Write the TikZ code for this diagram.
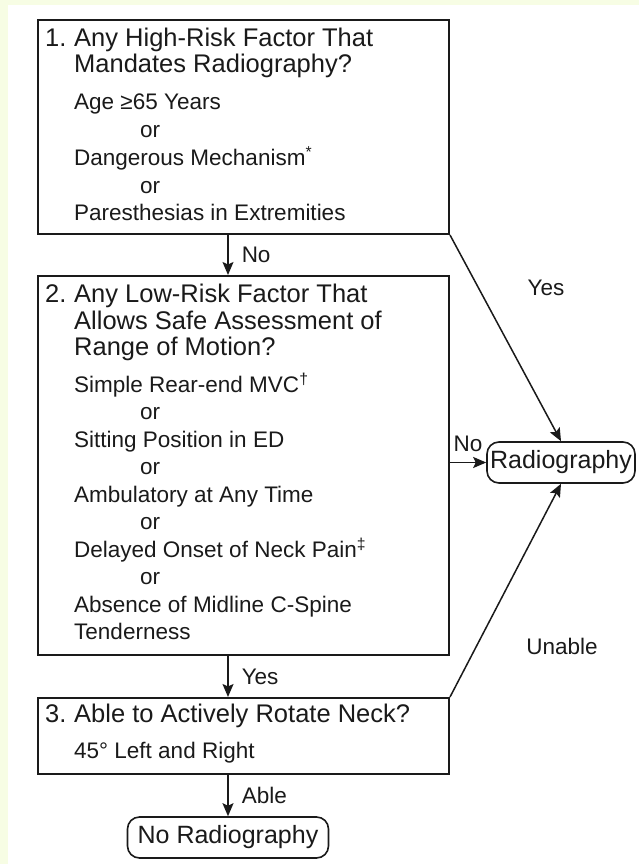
\documentclass[tikz,border=0pt]{standalone}
\usepackage{fontspec}
\setmainfont{Liberation Sans}
\usetikzlibrary{arrows.meta}
\definecolor{bandcol}{HTML}{F7FDE4}
\definecolor{inkcol}{HTML}{1A1A1A}
\tikzset{
  qbox/.style={draw=inkcol, line width=2pt, inner sep=0pt, anchor=north west, minimum width=411pt},
  endbox/.style={draw=inkcol, line width=1.6pt, rounded corners=12pt, inner sep=0pt, minimum height=41pt, font=\fontsize{25}{30}\selectfont},
  ttl/.style={anchor=base west, inner sep=0pt, font=\fontsize{25.5}{30}\selectfont},
  itm/.style={anchor=base west, inner sep=0pt, font=\fontsize{22.5}{27}\selectfont},
  lbl/.style={inner sep=0pt, font=\fontsize{22.5}{27}\selectfont},
  arr/.style={draw=inkcol, line width=1.5pt, -{Stealth[length=13pt,width=11pt,inset=2.5pt]}},
}

\begin{document}
\begin{tikzpicture}[x=1pt, y=-1pt, text=inkcol]
    \fill[bandcol] (0,0) rectangle (639,864);
    \fill[white] (8,5) rectangle (639,864);
    \useasboundingbox (0,0) rectangle (639,864);

    % boxes
    \node[qbox, minimum height=214pt] (q1) at (37,19) {};
    \node[qbox, minimum height=379pt] (q2) at (37,275) {};
    \node[qbox, minimum height=76pt] (q3) at (37,697) {};
    \node[endbox, minimum width=148pt] (rad) at (561,462.5) {Radiography};
    \node[endbox, minimum width=201pt] (norad) at (228,837.5) {No Radiography};

    % box 1
    \node[ttl] (n1) at (45,47) {1.}; \node[ttl] (t1a) at (74,47) {Any High-Risk Factor That}; \node[ttl] (t1b) at (74,73) {Mandates Radiography?};
    \node[itm] (a1) at (74,110) {Age ≥65 Years}; \node[itm] (o1a) at (140,138) {or};
    \node[itm] (a2) at (74,165) {Dangerous Mechanism\textsuperscript{*}}; \node[itm] (o1b) at (140,193) {or};
    \node[itm] (a3) at (74,220) {Paresthesias in Extremities};

    % box 2
    \node[ttl] (n2) at (45,302) {2.}; \node[ttl] (t2a) at (74,302) {Any Low-Risk Factor That};
    \node[ttl] (t2b) at (74,329) {Allows Safe Assessment of}; \node[ttl] (t2c) at (74,355) {Range of Motion?};
    \node[itm] (b1) at (74,392) {Simple Rear-end MVC\textsuperscript{†}}; \node[itm] (o2a) at (140,419.5) {or};
    \node[itm] (b2) at (74,447) {Sitting Position in ED}; \node[itm] (o2b) at (140,474.5) {or};
    \node[itm] (b3) at (74,502) {Ambulatory at Any Time}; \node[itm] (o2c) at (140,529.5) {or};
    \node[itm] (b4) at (74,557) {Delayed Onset of Neck Pain\textsuperscript{‡}}; \node[itm] (o2d) at (140,584.5) {or};
    \node[itm] (b5) at (74,612) {Absence of Midline C-Spine}; \node[itm] (b6) at (74,639) {Tenderness};

    % box 3
    \node[ttl] (n3) at (45,722) {3.}; \node[ttl] (t3a) at (74,722) {Able to Actively Rotate Neck?};
    \node[itm] (c1) at (74,758) {45° Left and Right};

    % arrows
    \draw[arr] (q1.south -| norad) -- (q2.north -| norad) node[lbl, midway, anchor=west, xshift=13pt] (l1) {No};
    \draw[arr] (q2.south -| norad) -- (q3.north -| norad) node[lbl, midway, anchor=west, xshift=13pt] (l2) {Yes};
    \draw[arr] (q3.south -| norad) -- (norad.north) node[lbl, midway, anchor=west, xshift=13pt] (l3) {Able};
    \draw[arr] (q2.east |- rad.west) -- (rad.west) node[lbl, midway, above=10pt] (l4) {No};
    \draw[arr] (q1.south east) -- (rad.north);
    \draw[arr] (q3.north east) -- (rad.south);
    \node[lbl] (l5) at (546,288) {Yes};
    \node[lbl] (l6) at (562,646) {Unable};
\end{tikzpicture}
\end{document}
